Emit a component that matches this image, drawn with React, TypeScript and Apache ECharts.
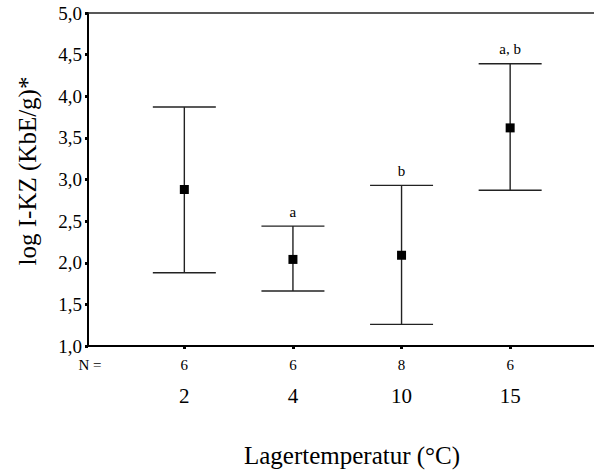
import React, { useEffect, useRef } from "react";
import * as echarts from "echarts";

const categories = ["2", "4", "10", "15"];
const nCounts = ["6", "6", "8", "6"];
const means = [2.88, 2.04, 2.09, 3.62];
const lowers = [1.88, 1.66, 1.26, 2.87];
const uppers = [3.87, 2.44, 2.93, 4.39];
const letters = ["", "a", "b", "a, b"];
const yTicks = [1.0, 1.5, 2.0, 2.5, 3.0, 3.5, 4.0, 4.5, 5.0];

const FONT = "Liberation Serif, serif";

export default function App() {
  const ref = useRef<HTMLDivElement>(null);
  useEffect(() => {
    document.body.style.margin = "0";
    if (!ref.current) return;
    const chart = echarts.init(ref.current, undefined, { renderer: "svg" });
    const data = categories.map((_, i) => [i, means[i], lowers[i], uppers[i]]);
    chart.setOption({
      animation: false,
      textStyle: { fontFamily: FONT },
      grid: { left: 88, right: 0, top: 13, bottom: 124 },
      xAxis: [
        {
          type: "value",
          min: -0.887,
          max: 3.772,
          splitLine: { show: false },
          axisLine: { show: true, onZero: false, lineStyle: { color: "#000", width: 2 } },
          axisTick: {
            show: true,
            customValues: [0, 1, 2, 3],
            length: 3,
            inside: false,
            lineStyle: { color: "#000", width: 3 },
          },
          axisLabel: {
            show: true,
            customValues: [0, 1, 2, 3],
            margin: 8,
            fontFamily: FONT,
            formatter: (v: number) => {
              const i = Math.round(v);
              return `{n|${nCounts[i]}}\n{c|${categories[i]}}`;
            },
            rich: {
              n: { fontFamily: FONT, fontSize: 15, color: "#000", lineHeight: 22 },
              c: { fontFamily: FONT, fontSize: 21, color: "#000", lineHeight: 40 },
            },
          },
        },
        {
          type: "value",
          position: "top",
          min: -0.887,
          max: 3.772,
          splitLine: { show: false },
          axisLine: { show: true, onZero: false, lineStyle: { color: "#222", width: 1.5 } },
          axisTick: { show: false },
          axisLabel: { show: false },
        },
      ],
      yAxis: {
        type: "value",
        min: 1,
        max: 5,
        interval: 0.5,
        splitLine: { show: false },
        axisLine: { show: true, onZero: false, lineStyle: { color: "#000", width: 2 } },
        axisTick: { show: true, length: 3, lineStyle: { color: "#000", width: 3 } },
        axisLabel: {
          fontFamily: FONT,
          fontSize: 19,
          color: "#000",
          margin: 6,
          formatter: (v: number) => {
            const t = yTicks.find((x) => Math.abs(x - v) < 1e-6);
            return (t !== undefined ? t : v).toFixed(1).replace(".", ",");
          },
        },
      },
      graphic: [
        {
          type: "text",
          x: 90,
          y: 365,
          style: {
            text: "N =",
            font: `15px ${FONT}`,
            fill: "#000",
            align: "center",
            verticalAlign: "middle",
          },
        },
        {
          type: "text",
          x: 352,
          y: 455,
          style: {
            text: "Lagertemperatur (°C)",
            font: `25px ${FONT}`,
            fill: "#000",
            align: "center",
            verticalAlign: "middle",
          },
        },
        {
          type: "text",
          x: 27,
          y: 171,
          rotation: Math.PI / 2,
          style: {
            text: "log I-KZ (KbE/g)*",
            font: `25px ${FONT}`,
            fill: "#000",
            align: "center",
            verticalAlign: "middle",
          },
        },
      ],
      series: [
        {
          type: "custom",
          data,
          clip: false,
          encode: { x: 0, y: [1, 2, 3] },
          renderItem: (params: any, api: any) => {
            const idx = params.dataIndex;
            const x = api.value(0);
            const pMean = api.coord([x, api.value(1)]);
            const pLo = api.coord([x, api.value(2)]);
            const pHi = api.coord([x, api.value(3)]);
            const hw = 31.5;
            const stroke = { stroke: "#222", lineWidth: 1.4 };
            return {
              type: "group",
              children: [
                { type: "line", shape: { x1: pHi[0], y1: pHi[1], x2: pLo[0], y2: pLo[1] }, style: stroke },
                { type: "line", shape: { x1: pHi[0] - hw, y1: pHi[1], x2: pHi[0] + hw, y2: pHi[1] }, style: stroke },
                { type: "line", shape: { x1: pLo[0] - hw, y1: pLo[1], x2: pLo[0] + hw, y2: pLo[1] }, style: stroke },
                {
                  type: "rect",
                  shape: { x: pMean[0] - 4.5, y: pMean[1] - 4.5, width: 9, height: 9 },
                  style: { fill: "#000" },
                },
                {
                  type: "text",
                  style: {
                    text: letters[idx],
                    x: pHi[0],
                    y: pHi[1] - 7,
                    align: "center",
                    verticalAlign: "bottom",
                    font: `15px ${FONT}`,
                    fill: "#000",
                  },
                },
              ],
            };
          },
        },
      ],
    });
    return () => chart.dispose();
  }, []);
  return <div ref={ref} style={{ width: 594, height: 470 }} />;
}
